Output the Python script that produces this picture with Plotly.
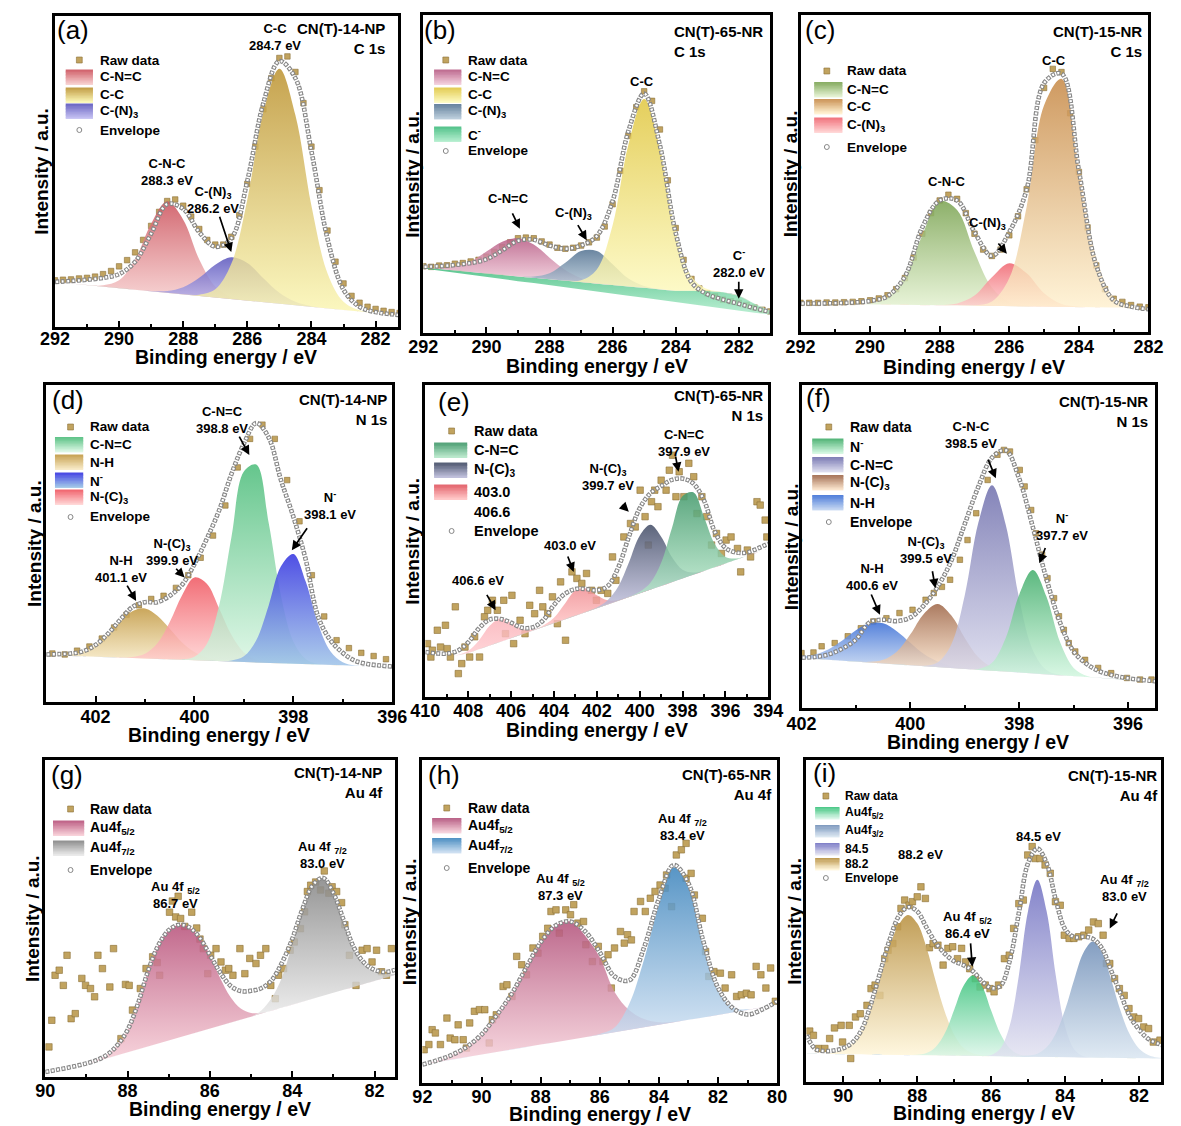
import plotly.graph_objects as go

W, H = 1181, 1126
FONT = "Liberation Sans"
RAW_COLOR = "rgb(193,163,95)"
RAW_EDGE = "rgb(140,112,55)"
ENV_COLOR = "rgb(135,135,135)"

# ---------------- (a) CN(T)-14-NP  C 1s ----------------
A_X = [292.0, 291.5, 291.0, 290.5, 290.0, 289.5, 289.0, 288.5, 288.0, 287.5, 287.0, 286.5,
       286.0, 285.5, 285.0, 284.5, 284.0, 283.5, 283.0, 282.5, 282.0, 281.5, 281.0]
A_BASE = [14.5, 14.0, 13.5, 13.0, 12.5, 12.0, 11.5, 11.0, 10.5, 10.0, 9.5, 9.0,
          8.5, 8.0, 7.5, 7.0, 6.5, 6.0, 5.5, 5.0, 4.5, 4.0, 3.5]
A_CNC = [0, 0, 0, 0.4, 2.5, 9.6, 21.7, 29.4, 24.0, 11.7, 3.5, 0.6,
         0.1, 0, 0, 0, 0, 0, 0, 0, 0, 0, 0]
A_CN3 = [0, 0, 0, 0, 0, 0, 0.1, 0.6, 2.3, 5.8, 10.5, 13.4,
         12.1, 7.7, 3.5, 1.1, 0.2, 0, 0, 0, 0, 0, 0]
A_CC = [0, 0, 0, 0, 0, 0, 0, 0, 0, 0.4, 2.6, 11.3,
        32.5, 61.1, 75.5, 61.1, 32.5, 11.3, 2.6, 0.4, 0, 0, 0]
A_ENV = [14.5, 14.8, 15.2, 15.8, 17.0, 21.0, 30.0, 39.5, 38.0, 30.5, 25.8, 28.5,
         47.0, 72.0, 85.5, 80.0, 56.5, 28.4, 12.0, 6.5, 4.8, 4.1, 3.6]
A_RAW_X = [292.0, 291.75, 291.5, 291.25, 291.0, 290.75, 290.5, 290.25, 290.0, 289.75, 289.5,
           289.25, 289.0, 288.75, 288.5, 288.25, 288.0, 287.75, 287.5, 287.25, 287.0, 286.75,
           286.5, 286.25, 286.0, 285.75, 285.5, 285.25, 285.0, 284.75, 284.5, 284.25, 284.0,
           283.75, 283.5, 283.25, 283.0, 282.75, 282.5, 282.25, 282.0, 281.75, 281.5, 281.25]
A_RAW_Y = [15.0, 15.2, 15.3, 15.6, 15.8, 16.2, 17.0, 18.0, 19.5, 21.5, 24.0,
           28.0, 32.5, 37.0, 40.5, 41.0, 39.0, 35.5, 31.5, 28.0, 26.5, 26.5,
           29.0, 36.0, 46.0, 58.0, 70.0, 80.0, 86.5, 87.0, 82.0, 72.0, 58.0,
           44.0, 31.0, 21.0, 14.0, 10.0, 7.8, 6.5, 5.8, 5.2, 4.8, 4.5]

# ---------------- (b) CN(T)-65-NR  C 1s ----------------
B_X = [292.0, 291.5, 291.0, 290.5, 290.0, 289.5, 289.0, 288.5, 288.0, 287.5, 287.0, 286.5,
       286.0, 285.5, 285.0, 284.5, 284.0, 283.5, 283.0, 282.5, 282.0, 281.5, 281.0]
B_BASE = [20.3, 19.6, 19.0, 18.3, 17.7, 17.0, 16.3, 15.7, 15.0, 14.4, 13.7, 13.0,
          12.4, 11.7, 11.1, 10.4, 9.7, 9.1, 8.4, 7.8, 7.1, 6.4, 5.8]
B_CM = [0.3, 0.5, 0.7, 0.9, 1.1, 1.3, 1.5, 1.7, 1.9, 2.1, 2.3, 2.5,
        2.7, 2.9, 3.1, 3.3, 3.6, 4.2, 4.8, 5.0, 4.6, 2.8, 1.2]
B_CNC = [0.1, 0.3, 1.2, 3.3, 6.8, 10.4, 12.0, 10.4, 6.8, 3.3, 1.2, 0.3,
         0.1, 0, 0, 0, 0, 0, 0, 0, 0, 0, 0]
B_CN3 = [0, 0, 0, 0, 0, 0, 0, 0.4, 1.9, 5.6, 9.8, 10.3,
         6.5, 2.5, 0.6, 0.1, 0, 0, 0, 0, 0, 0, 0]
B_CC = [0, 0, 0, 0, 0, 0, 0, 0, 0, 0, 0.6, 4.5,
        18.8, 44.6, 59.4, 44.6, 18.8, 4.5, 0.6, 0, 0, 0, 0]
B_ENV = [20.8, 21.0, 21.4, 22.0, 23.2, 26.0, 29.0, 29.3, 27.5, 26.5, 27.5, 30.5,
         41.5, 63.5, 75.3, 59.0, 31.5, 16.0, 12.2, 10.5, 9.2, 7.8, 6.6]
B_RAW_X = [292.0, 291.75, 291.5, 291.25, 291.0, 290.75, 290.5, 290.25, 290.0, 289.75, 289.5,
           289.25, 289.0, 288.75, 288.5, 288.25, 288.0, 287.75, 287.5, 287.25, 287.0, 286.75,
           286.5, 286.25, 286.0, 285.75, 285.5, 285.25, 285.0, 284.75, 284.5, 284.25, 284.0,
           283.75, 283.5, 283.25, 283.0, 282.75, 282.5, 282.25, 282.0, 281.75, 281.5, 281.25, 281.0]
B_RAW_Y = [21.0, 20.8, 21.2, 21.3, 21.8, 22.0, 22.5, 23.0, 24.0, 25.5, 27.0,
           28.5, 29.8, 30.0, 29.8, 28.8, 27.8, 26.8, 26.5, 26.8, 27.5, 28.5,
           30.0, 33.5, 40.5, 51.0, 62.0, 71.0, 76.0, 73.0, 64.0, 48.0, 33.0,
           23.0, 17.0, 14.0, 12.5, 11.5, 10.5, 10.0, 9.5, 8.8, 8.0, 7.3, 6.8]

# ---------------- (c) CN(T)-15-NR  C 1s ----------------
C_X = [292.0, 291.5, 291.0, 290.5, 290.0, 289.5, 289.0, 288.5, 288.0, 287.5, 287.0,
       286.5, 286.0, 285.5, 285.0, 284.5, 284.0, 283.5, 283.0, 282.5, 282.0]
C_BASE = [9.0, 8.9, 8.9, 8.8, 8.7, 8.7, 8.6, 8.5, 8.4, 8.4, 8.3,
          8.2, 8.2, 8.1, 8.0, 7.9, 7.9, 7.8, 7.7, 7.7, 7.6]
C_CNC = [0, 0, 0, 0, 0.3, 2.3, 9.0, 22.0, 32.9, 30.1, 16.9,
         5.8, 1.2, 0.2, 0, 0, 0, 0, 0, 0, 0]
C_CN3 = [0, 0, 0, 0, 0, 0, 0, 0, 0.1, 0.6, 3.2,
         9.1, 13.5, 10.4, 4.2, 0.9, 0.1, 0, 0, 0, 0]
C_CC = [0, 0, 0, 0, 0, 0, 0, 0, 0, 0, 0.1,
        1.4, 8.8, 31.5, 63.5, 72.0, 44.5, 15.6, 3.2, 0.4, 0]
C_ENV = [9.0, 9.0, 9.1, 9.3, 9.8, 11.3, 17.5, 33.0, 41.5, 41.5, 31.5,
         24.0, 31.5, 45.0, 78.5, 81.5, 51.0, 21.0, 10.0, 8.0, 7.2]
C_RAW_X = [292.0, 291.75, 291.5, 291.25, 291.0, 290.75, 290.5, 290.25, 290.0, 289.75, 289.5,
           289.25, 289.0, 288.75, 288.5, 288.25, 288.0, 287.75, 287.5, 287.25, 287.0, 286.75,
           286.5, 286.25, 286.0, 285.75, 285.5, 285.25, 285.0, 284.75, 284.5, 284.25, 284.0,
           283.75, 283.5, 283.25, 283.0, 282.75, 282.5, 282.25, 282.0]
C_RAW_Y = [9.2, 9.2, 9.2, 9.3, 9.3, 9.4, 9.5, 9.7, 10.0, 10.6, 11.6,
           13.5, 17.0, 23.5, 31.0, 37.5, 41.5, 43.3, 42.0, 37.5, 31.0, 26.0,
           24.0, 26.0, 30.5, 36.5, 45.0, 60.5, 77.0, 83.0, 82.0, 69.0, 50.5,
           33.0, 21.0, 13.5, 10.5, 9.5, 8.5, 8.0, 7.8]

# ---------------- (d) CN(T)-14-NP  N 1s ----------------
D_X = [403.0, 402.75, 402.5, 402.25, 402.0, 401.75, 401.5, 401.25, 401.0, 400.75, 400.5,
       400.25, 400.0, 399.75, 399.5, 399.25, 399.0, 398.75, 398.5, 398.25, 398.0, 397.75,
       397.5, 397.25, 397.0, 396.75, 396.5, 396.25, 396.0]
D_BASE = [14.8, 14.7, 14.5, 14.4, 14.3, 14.1, 14.0, 13.9, 13.7, 13.6, 13.5,
          13.3, 13.2, 13.0, 12.9, 12.8, 12.6, 12.5, 12.4, 12.2, 12.1, 12.0,
          11.8, 11.7, 11.6, 11.4, 11.3, 11.2, 11.0]
D_NH = [0, 0.1, 0.5, 1.5, 3.6, 7.0, 11.3, 14.8, 15.8, 13.6, 9.6,
        5.5, 2.6, 1.0, 0.3, 0.1, 0, 0, 0, 0, 0, 0,
        0, 0, 0, 0, 0, 0, 0]
D_NC3 = [0, 0, 0, 0, 0, 0, 0, 0.3, 1.5, 4.9, 11.7,
         20.4, 26.1, 24.3, 16.6, 8.3, 3.0, 0.8, 0.2, 0, 0, 0,
         0, 0, 0, 0, 0, 0, 0]
D_CNC = [0, 0, 0, 0, 0, 0, 0, 0, 0, 0, 0,
         0.2, 1.1, 5.3, 17.6, 39.4, 60.1, 62.4, 44.2, 21.3, 7.0, 1.6,
         0.2, 0, 0, 0, 0, 0, 0]
D_NM = [0, 0, 0, 0, 0, 0, 0, 0, 0, 0, 0,
        0, 0, 0, 0, 0.3, 1.8, 7.0, 18.0, 30.6, 34.6, 26.0,
        12.9, 4.3, 0.9, 0.1, 0, 0, 0]
D_ENV = [15.0, 15.1, 15.3, 16.0, 18.0, 21.5, 26.0, 30.0, 31.5, 31.5, 33.5,
         37.0, 43.5, 51.5, 60.5, 72.0, 81.5, 88.0, 83.5, 70.0, 58.5, 45.0,
         27.0, 19.5, 15.5, 13.0, 12.0, 11.5, 11.2]
D_RAW_X = [402.875, 402.625, 402.375, 402.125, 401.875, 401.625, 401.375, 401.125, 400.875,
           400.625, 400.375, 400.125, 399.875, 399.625, 399.375, 399.125, 398.875, 398.625,
           398.375, 398.125, 397.875, 397.625, 397.375, 397.125, 396.875, 396.625, 396.375, 396.125]
D_RAW_Y = [15.3, 15.0, 16.2, 17.5, 20.0, 23.5, 27.5, 30.5, 32.5,
           33.5, 36.0, 40.0, 45.5, 52.5, 62.0, 74.0, 83.0, 87.5,
           83.0, 70.0, 57.0, 40.0, 27.0, 19.5, 17.0, 15.5, 14.5, 13.5]

# ---------------- (e) CN(T)-65-NR  N 1s ----------------
E_X = [410.0, 409.5, 409.0, 408.5, 408.0, 407.5, 407.0, 406.5, 406.0, 405.5, 405.0,
       404.5, 404.0, 403.5, 403.0, 402.5, 402.0, 401.5, 401.0, 400.5, 400.0, 399.5,
       399.0, 398.5, 398.0, 397.5, 397.0, 396.5, 396.0, 395.5, 395.0, 394.5, 394.0]
E_BASE = [13.4, 13.4, 13.4, 13.4, 14.1, 15.3, 16.5, 17.7, 18.9, 20.1, 21.3,
          22.5, 23.7, 24.9, 26.1, 27.3, 28.5, 29.7, 30.9, 32.1, 33.3, 34.5,
          35.6, 36.8, 38.0, 39.2, 40.4, 41.6, 42.8, 44.0, 45.2, 46.4, 47.6]
E_P406 = [0, 0, 0, 0.1, 0.7, 2.8, 6.3, 7.5, 4.9, 1.7, 0.3,
          0, 0, 0, 0, 0, 0, 0, 0, 0, 0, 0,
          0, 0, 0, 0, 0, 0, 0, 0, 0, 0, 0]
E_P403 = [0, 0, 0, 0, 0, 0, 0, 0, 0, 0, 0,
          0.4, 1.7, 4.9, 8.0, 7.5, 4.1, 1.3, 0.2, 0, 0, 0,
          0, 0, 0, 0, 0, 0, 0, 0, 0, 0, 0]
E_NC3 = [0, 0, 0, 0, 0, 0, 0, 0, 0, 0, 0,
         0, 0, 0, 0, 0, 0.2, 1.3, 4.5, 11.1, 18.4, 20.7,
         15.8, 8.1, 2.8, 0.7, 0.1, 0, 0, 0, 0, 0, 0]
E_CNC = [0, 0, 0, 0, 0, 0, 0, 0, 0, 0, 0,
         0, 0, 0, 0, 0, 0, 0, 0, 0, 0.4, 2.1,
         7.4, 17.3, 26.4, 26.4, 17.3, 7.4, 2.1, 0.4, 0, 0, 0]
E_ENV = [14.4, 14.0, 13.9, 14.8, 17.5, 22.0, 24.8, 25.0, 23.8, 22.2, 22.3,
         24.6, 29.5, 33.0, 34.6, 34.6, 34.2, 35.5, 41.5, 51.5, 60.5, 65.3,
         67.6, 69.6, 70.0, 68.4, 63.0, 53.0, 47.8, 46.3, 46.3, 47.6, 49.2]
E_RAW_X = [409.9, 409.74, 409.67, 409.44, 409.29, 409.06, 408.98, 408.83, 408.6, 408.46,
           408.3, 408.15, 407.93, 407.7, 407.47, 407.24, 407.09, 406.87, 406.64, 406.34,
           406.26, 405.96, 405.88, 405.58, 405.35, 405.13, 404.9, 404.67, 404.52, 404.29,
           404.07, 403.84, 403.69, 403.46, 403.16, 402.93, 402.7, 402.48, 402.25, 402.02,
           401.8, 401.49, 401.27, 401.11, 400.74, 400.43, 400.21, 399.98, 399.75, 399.6,
           399.45, 399.3, 399.15, 399.0, 398.77, 398.62, 398.47, 398.31, 398.16, 397.94,
           397.71, 397.48, 397.33, 397.1, 396.88, 396.65, 396.42, 396.19, 395.97, 395.74,
           395.44, 395.29, 394.98, 394.83, 394.53, 394.38, 394.15, 394.07]
E_RAW_Y = [17.1, 12.8, 15.0, 21.4, 16.0, 23.0, 15.5, 12.8, 28.9, 7.5,
           10.7, 16.0, 12.8, 19.3, 12.8, 25.7, 27.8, 31.0, 27.8, 31.0,
           20.3, 32.6, 17.1, 24.6, 20.3, 29.4, 26.7, 34.2, 28.9, 26.7,
           32.1, 23.5, 36.9, 18.2, 40.1, 38.0, 36.4, 39.6, 34.2, 31.0,
           34.2, 33.2, 44.9, 37.4, 51.3, 55.6, 54.5, 66.3, 57.8, 48.7,
           62.6, 66.3, 61.0, 69.5, 66.3, 72.7, 77.5, 64.2, 72.2, 64.2,
           74.9, 70.6, 58.8, 64.2, 57.8, 48.7, 52.4, 46.0, 50.3, 51.3,
           47.6, 40.1, 47.1, 44.9, 62.6, 61.5, 56.7, 51.3]

# ---------------- (f) CN(T)-15-NR  N 1s ----------------
F_X = [402.0, 401.75, 401.5, 401.25, 401.0, 400.75, 400.5, 400.25, 400.0, 399.75, 399.5,
       399.25, 399.0, 398.75, 398.5, 398.25, 398.0, 397.75, 397.5, 397.25, 397.0, 396.75,
       396.5, 396.25, 396.0, 395.75, 395.5]
F_BASE = [15.5, 15.2, 14.9, 14.6, 14.4, 14.1, 13.8, 13.5, 13.2, 12.9, 12.7,
          12.4, 12.1, 11.8, 11.5, 11.3, 11.0, 10.7, 10.4, 10.1, 9.9, 9.6,
          9.3, 9.0, 8.7, 8.5, 8.2]
F_NH = [0.5, 1.4, 3.3, 6.3, 9.7, 12.1, 12.4, 10.3, 7.0, 3.8, 1.7,
        0.6, 0.2, 0, 0, 0, 0, 0, 0, 0, 0, 0,
        0, 0, 0, 0, 0]
F_NC3 = [0, 0, 0, 0, 0, 0.2, 1.1, 3.9, 9.6, 16.3, 19.5,
         16.3, 9.6, 3.9, 1.1, 0.2, 0, 0, 0, 0, 0, 0,
         0, 0, 0, 0, 0]
F_CNC = [0, 0, 0, 0, 0, 0, 0, 0, 0, 0.2, 1.4,
         7.2, 22.8, 45.6, 57.5, 45.6, 22.8, 7.2, 1.4, 0.2, 0, 0,
         0, 0, 0, 0, 0]
F_NM = [0, 0, 0, 0, 0, 0, 0, 0, 0, 0, 0,
        0, 0, 0.3, 2.5, 10.3, 24.1, 32.0, 24.1, 10.3, 2.5, 0.3,
        0, 0, 0, 0, 0]
F_ENV = [15.6, 15.8, 16.6, 18.4, 21.2, 26.5, 27.3, 26.9, 28.0, 31.8, 37.5,
         45.5, 57.0, 68.5, 77.5, 79.8, 71.0, 56.0, 40.0, 26.5, 17.5, 13.5,
         11.2, 10.0, 9.2, 8.7, 8.3]
F_RAW_X = [402.0, 401.78, 401.63, 401.39, 401.15, 400.91, 400.68, 400.44, 400.2, 399.96,
           399.72, 399.57, 399.42, 399.27, 399.09, 398.95, 398.79, 398.58, 398.4, 398.28,
           398.17, 397.99, 397.9, 397.78, 397.69, 397.58, 397.48, 397.36, 397.27, 397.18,
           397.09, 396.97, 396.79, 396.55, 396.31, 396.02, 395.78, 395.57]
F_RAW_Y = [17.0, 17.2, 19.1, 20.1, 22.2, 24.7, 26.8, 27.8, 29.4, 30.4,
           33.5, 35.6, 37.5, 39.7, 45.9, 52.0, 60.3, 70.6, 78.4, 79.9,
           79.4, 73.7, 68.6, 61.3, 54.1, 47.5, 40.2, 34.0, 28.4, 24.2,
           20.1, 17.5, 14.9, 12.4, 10.8, 9.3, 8.8, 8.8]

# ---------------- (g) CN(T)-14-NP  Au 4f ----------------
G_X = [90.0, 89.75, 89.5, 89.25, 89.0, 88.75, 88.5, 88.25, 88.0, 87.75, 87.5, 87.25,
       87.0, 86.75, 86.5, 86.25, 86.0, 85.75, 85.5, 85.25, 85.0, 84.75, 84.5, 84.25,
       84.0, 83.75, 83.5, 83.25, 83.0, 82.75, 82.5, 82.25, 82.0, 81.75, 81.5]
G_BASE = [0.2, 1.2, 2.1, 3.1, 4.0, 5.0, 5.9, 6.8, 7.8, 8.7, 9.6, 10.6,
          11.5, 12.5, 13.4, 14.3, 15.3, 16.2, 17.2, 18.1, 19.0, 20.0, 20.9, 21.9,
          22.8, 23.7, 24.7, 25.6, 26.6, 27.5, 28.4, 29.4, 30.3, 31.3, 32.2]
G_P52 = [0, 0, 0, 0, 0, 0.4, 1.1, 3.2, 7.0, 14.3, 23.9, 31.0,
         34.8, 35.5, 33.8, 29.7, 23.2, 15.0, 8.0, 3.5, 1.2, 0.3, 0, 0,
         0, 0, 0, 0, 0, 0, 0, 0, 0, 0, 0]
G_P72 = [0, 0, 0, 0, 0, 0, 0, 0, 0, 0, 0, 0,
         0, 0, 0, 0, 0, 0, 0, 0, 0, 1.0, 4.0, 9.5,
         19.0, 29.0, 35.8, 37.2, 31.5, 21.5, 12.0, 6.0, 2.8, 1.2, 0.4]
G_ENV = [1.6, 2.2, 2.8, 3.5, 4.3, 5.3, 7.0, 10.0, 14.8, 23.0, 33.5, 41.6,
         46.3, 48.0, 47.2, 44.0, 38.5, 33.0, 28.8, 27.1, 27.2, 28.0, 30.5, 36.0,
         43.5, 53.0, 60.5, 62.8, 58.0, 49.5, 40.8, 36.0, 33.8, 33.1, 33.8]
G_RAW_X = [89.91, 89.84, 89.76, 89.66, 89.56, 89.47, 89.37, 89.27, 89.11, 89.02,
           88.9, 88.8, 88.72, 88.61, 88.43, 88.34, 88.16, 88.05, 87.96, 87.88,
           87.69, 87.55, 87.39, 87.28, 87.22, 86.98, 86.91, 86.83, 86.77, 86.71,
           86.61, 86.44, 86.32, 86.24, 86.16, 86.05, 85.98, 85.85, 85.73, 85.62,
           85.54, 85.44, 85.27, 85.15, 85.03, 84.88, 84.77, 84.64, 84.52, 84.41,
           84.33, 84.21, 84.05, 83.95, 83.8, 83.7, 83.63, 83.55, 83.43, 83.31,
           83.22, 83.11, 83.03, 82.92, 82.8, 82.72, 82.61, 82.45, 82.3, 82.18,
           82.06, 81.95, 81.83, 81.71, 81.59]
G_RAW_Y = [9.5, 17.9, 32.1, 33.7, 28.9, 38.4, 18.4, 20.0, 31.1, 28.9,
           27.9, 25.3, 38.4, 34.2, 28.4, 40.5, 12.1, 29.2, 28.9, 21.1,
           27.9, 34.2, 37.9, 36.1, 32.1, 52.0, 55.5, 50.5, 57.0, 50.0,
           47.5, 52.0, 47.0, 43.5, 40.5, 32.6, 38.4, 40.5, 36.3, 33.7,
           34.2, 32.1, 40.5, 32.6, 37.4, 35.8, 38.4, 40.5, 28.9, 24.7,
           32.1, 34.2, 40.0, 42.6, 46.8, 52.1, 58.5, 60.5, 61.5, 59.0,
           65.0, 58.0, 60.0, 58.5, 55.0, 48.0, 38.4, 28.9, 40.0, 40.5,
           36.3, 40.0, 33.2, 32.1, 40.5]

# ---------------- (h) CN(T)-65-NR  Au 4f ----------------
H_X = [92.0, 91.5, 91.0, 90.5, 90.0, 89.5, 89.0, 88.5, 88.0, 87.5, 87.0, 86.5,
       86.0, 85.5, 85.0, 84.5, 84.0, 83.5, 83.0, 82.5, 82.0, 81.5, 81.0, 80.5, 80.0]
H_BASE = [5.7, 6.5, 7.2, 8.0, 8.8, 9.6, 10.3, 11.1, 11.9, 12.6, 13.4, 14.2,
          14.9, 15.7, 16.5, 17.3, 18.0, 18.8, 19.6, 20.3, 21.1, 21.9, 22.6, 23.4, 24.2]
H_P52 = [0, 0.5, 1.5, 3.2, 6.2, 11.2, 17.0, 24.4, 31.6, 36.1, 36.6, 31.5,
         24.0, 12.5, 6.0, 2.5, 0.8, 0.2, 0, 0, 0, 0, 0, 0, 0]
H_P72 = [0, 0, 0, 0, 0, 0, 0, 0, 0, 0, 0, 0,
         0.3, 1.5, 8.0, 21.0, 37.0, 48.0, 41.0, 22.0, 7.5, 1.5, 0.2, 0, 0]
H_ENV = [5.7, 7.0, 8.7, 11.2, 15.0, 20.8, 27.3, 35.5, 43.5, 48.7, 50.0, 47.0,
         40.5, 33.0, 31.8, 42.0, 57.0, 67.5, 61.8, 44.0, 29.5, 23.2, 21.2, 22.8, 25.3]
H_RAW_X = [91.94, 91.78, 91.67, 91.56, 91.39, 91.17, 91.06, 90.9, 90.79, 90.62,
           90.51, 90.4, 90.24, 90.07, 89.89, 89.74, 89.63, 89.5, 89.27, 89.14,
           88.97, 88.81, 88.64, 88.48, 88.26, 88.09, 87.93, 87.76, 87.65, 87.48,
           87.37, 87.15, 86.99, 86.88, 86.74, 86.55, 86.47, 86.25, 86.05, 85.89,
           85.72, 85.61, 85.5, 85.3, 85.17, 85.06, 84.93, 84.84, 84.62, 84.46,
           84.29, 84.13, 83.96, 83.79, 83.74, 83.57, 83.41, 83.24, 83.08, 83.08,
           82.91, 82.8, 82.53, 82.42, 82.31, 82.14, 81.92, 81.76, 81.54, 81.37,
           81.21, 81.04, 80.88, 80.71, 80.55, 80.38, 80.22, 80.06]
H_RAW_Y = [10.3, 11.9, 16.5, 15.5, 11.9, 20.1, 13.9, 13.4, 18.0, 13.4,
           10.8, 18.6, 22.2, 22.7, 22.7, 12.4, 19.6, 21.1, 29.9, 30.4,
           26.8, 39.2, 36.6, 33.5, 41.8, 40.2, 45.4, 47.9, 53.1, 53.6,
           46.4, 53.6, 52.1, 55.2, 49.5, 50.0, 42.8, 37.6, 42.3, 37.6,
           39.7, 29.4, 41.8, 46.9, 43.3, 45.9, 44.3, 53.1, 56.2, 53.1,
           57.2, 59.3, 61.3, 60.3, 64.4, 54.6, 70.6, 72.2, 74.2, 63.4,
           64.9, 58.2, 51.0, 40.7, 33.0, 34.5, 34.0, 29.4, 33.5, 26.8,
           27.3, 27.8, 27.3, 36.1, 33.5, 29.4, 35.6, 25.3]

# ---------------- (i) CN(T)-15-NR  Au 4f ----------------
I_X = [91.0, 90.75, 90.5, 90.25, 90.0, 89.75, 89.5, 89.25, 89.0, 88.75,
       88.5, 88.25, 88.0, 87.75, 87.5, 87.25, 87.0, 86.75, 86.5, 86.25,
       86.0, 85.75, 85.5, 85.25, 85.0, 84.75, 84.5, 84.25, 84.0, 83.75,
       83.5, 83.25, 83.0, 82.75, 82.5, 82.25, 82.0, 81.75, 81.5, 81.25]
I_BASE = [8.8, 8.8, 8.7, 8.7, 8.7, 8.6, 8.6, 8.5, 8.5, 8.4,
          8.4, 8.4, 8.3, 8.3, 8.3, 8.2, 8.2, 8.1, 8.1, 8.1,
          8.0, 8.0, 7.9, 7.9, 7.9, 7.8, 7.8, 7.8, 7.7, 7.7,
          7.6, 7.6, 7.6, 7.5, 7.5, 7.5, 7.4, 7.4, 7.3, 7.3]
I_P882 = [0, 0, 0, 0.5, 1.5, 3.5, 7.5, 14.5, 24.0, 33.5,
          40.5, 43.5, 41.0, 33.5, 23.0, 13.5, 6.5, 2.5, 0.8, 0.2,
          0, 0, 0, 0, 0, 0, 0, 0, 0, 0,
          0, 0, 0, 0, 0, 0, 0, 0, 0, 0]
I_P52 = [0, 0, 0, 0, 0, 0, 0, 0, 0, 0,
         0, 0, 0.2, 0.7, 2.6, 7.0, 14.2, 21.7, 25.0, 21.7,
         14.2, 7.0, 2.6, 0.7, 0.2, 0, 0, 0, 0, 0,
         0, 0, 0, 0, 0, 0, 0, 0, 0, 0]
I_P845 = [0, 0, 0, 0, 0, 0, 0, 0, 0, 0,
          0, 0, 0, 0, 0, 0, 0, 0, 0, 0,
          0.4, 2.4, 9.5, 25.2, 45.3, 55.0, 45.3, 25.2, 9.5, 2.4,
          0.4, 0, 0, 0, 0, 0, 0, 0, 0, 0]
I_P32 = [0, 0, 0, 0, 0, 0, 0, 0, 0, 0,
         0, 0, 0, 0, 0, 0, 0, 0, 0, 0,
         0, 0, 0, 0, 0.3, 1.0, 3.0, 7.3, 14.7, 24.2,
         32.6, 36.0, 32.6, 24.2, 14.7, 7.3, 3.0, 1.0, 0.3, 0.1]
I_ENV = [14.5, 10.2, 9.6, 9.8, 10.5, 12.3, 16.3, 24.3, 34.2, 44.0,
         51.5, 54.3, 53.0, 48.0, 43.2, 39.8, 37.5, 36.3, 34.5, 31.3,
         29.2, 29.8, 37.5, 52.5, 68.0, 72.5, 68.0, 56.5, 47.5, 45.0,
         45.1, 44.5, 41.5, 34.5, 27.5, 20.5, 16.3, 13.4, 12.0, 11.0]
I_RAW_X = [90.91, 90.81, 90.67, 90.5, 90.37, 90.24, 90.06, 90.02, 89.84, 89.8,
           89.67, 89.54, 89.36, 89.25, 89.14, 89.01, 88.88, 88.79, 88.66, 88.53,
           88.44, 88.34, 88.22, 88.13, 88.0, 87.9, 87.78, 87.67, 87.57, 87.44,
           87.3, 87.17, 87.04, 86.91, 86.8, 86.69, 86.58, 86.43, 86.3, 86.16,
           86.03, 85.92, 85.8, 85.64, 85.51, 85.39, 85.25, 85.13, 85.01, 84.89,
           84.81, 84.68, 84.54, 84.4, 84.26, 84.13, 84.02, 83.89, 83.76, 83.63,
           83.49, 83.36, 83.23, 83.1, 82.97, 82.88, 82.79, 82.66, 82.53, 82.4,
           82.27, 82.14, 82.01, 81.87, 81.74, 81.61, 81.43]
I_RAW_Y = [15.8, 14.5, 10.4, 10.4, 13.5, 16.8, 17.6, 12.4, 17.6, 7.3,
           20.2, 21.2, 23.8, 29.0, 30.1, 26.9, 38.3, 40.9, 43.0, 48.2,
           53.9, 56.5, 54.9, 56.0, 57.5, 60.6, 57.0, 41.7, 43.0, 42.5,
           36.3, 41.5, 42.0, 38.3, 41.5, 37.3, 35.2, 32.1, 29.5, 30.1,
           29.0, 28.0, 30.1, 38.3, 39.4, 47.7, 55.4, 56.5, 70.5, 73.1,
           69.4, 69.4, 67.4, 64.8, 56.0, 54.9, 45.6, 44.6, 44.6, 45.1,
           45.6, 47.2, 49.7, 49.2, 45.6, 36.8, 36.8, 32.1, 29.0, 26.9,
           22.8, 20.2, 19.7, 17.1, 16.6, 12.4, 13.0]

# ---------------- colours (top, bottom) ----------------
COL = {
    "a_cnc": ((205, 85, 95), (245, 200, 200)), "a_cn3": ((95, 90, 190), (190, 185, 240)),
    "a_cc": ((190, 150, 55), (250, 245, 175)),
    "b_cm": ((70, 190, 130), (170, 235, 200)), "b_cnc": ((185, 95, 135), (240, 200, 215)),
    "b_cn3": ((90, 120, 150), (180, 200, 215)), "b_cc": ((225, 200, 70), (252, 248, 185)),
    "c_cnc": ((125, 165, 85), (225, 240, 205)), "c_cn3": ((240, 105, 115), (255, 205, 205)),
    "c_cc": ((200, 140, 75), (255, 240, 205)),
    "d_nh": ((195, 155, 70), (245, 230, 190)), "d_nc3": ((240, 90, 100), (255, 205, 205)),
    "d_cnc": ((80, 190, 125), (215, 245, 225)), "d_nm": ((55, 55, 225), (150, 190, 230)),
    "e_406": ((240, 130, 140), (255, 200, 205)), "e_403": ((225, 90, 100), (255, 195, 195)),
    "e_nc3": ((70, 80, 105), (185, 185, 215)), "e_cnc": ((70, 155, 110), (180, 230, 200)),
    "f_nh": ((65, 115, 215), (190, 210, 240)), "f_nc3": ((160, 105, 75), (250, 225, 200)),
    "f_cnc": ((115, 115, 175), (215, 215, 235)), "f_nm": ((70, 175, 110), (205, 245, 220)),
    "g_52": ((185, 85, 125), (245, 200, 210)), "g_72": ((135, 135, 135), (230, 230, 230)),
    "h_52": ((180, 85, 125), (245, 205, 215)), "h_72": ((65, 135, 190), (200, 220, 240)),
    "i_882": ((185, 145, 65), (255, 245, 215)), "i_52": ((60, 195, 125), (215, 245, 230)),
    "i_845": ((115, 115, 195), (225, 225, 240)), "i_32": ((115, 145, 185), (215, 228, 240)),
}

B_ON = [l + g for l, g in zip(B_BASE, B_CM)]

PANELS = [
    dict(tag="(a)", frame=(41, 393, 16, 327), xr=[292, 281.3], X=A_X, base=A_BASE, env=A_ENV,
         raw=(A_RAW_X, A_RAW_Y), rs=5.5, ts=-6,
         peaks=[(A_CNC, "a_cnc", None), (A_CN3, "a_cn3", None), (A_CC, "a_cc", None)],
         tagpos=(291.45, 95.5), sample=("CN(T)-14-NP<br>C 1s", 281.65, 92.8, "right"),
         labels=[("C-C<br>284.7 eV", 285.13, 93.3), ("C-N-C<br>288.3 eV", 288.52, 49.9),
                 ("C-(N)<sub>3</sub><br>286.2 eV", 287.07, 40.8)],
         arrows=[(286.88, 35.9, 286.5, 24.1)],
         xt=357, yt=27,
         leg=dict(sw=(52, 80), mx=66, tx=85, fs=13.5, sh=15,
                  rows=[(60, "raw", "Raw data", None), (77, "fill", "C-N=C", "a_cnc"),
                        (95, "fill", "C-C", "a_cc"), (111, "fill", "C-(N)<sub>3</sub>", "a_cn3"),
                        (130, "env", "Envelope", None)])),
    dict(tag="(b)", frame=(419, 775, 15, 333), xr=[292, 281], X=B_X, base=B_BASE, env=B_ENV,
         raw=(B_RAW_X, B_RAW_Y), rs=5.5, ts=-4,
         peaks=[(B_CM, "b_cm", None), (B_CNC, "b_cnc", B_ON), (B_CN3, "b_cn3", B_ON), (B_CC, "b_cc", B_ON)],
         tagpos=(291.48, 95.3), sample=("CN(T)-65-NR<br>C 1s", 284.12, 91.6, "left"),
         labels=[("C-C", 285.06, 79.0), ("C-N=C", 289.3, 42.3), ("C-(N)<sub>3</sub>", 287.23, 37.5),
                 ("C<sup>-</sup><br>282.0 eV", 282.0, 21.8)],
         arrows=[(289.2, 38.1, 288.94, 32.8), (287.13, 34.4, 286.82, 29.2), (282.0, 16.6, 282.0, 10.8)],
         xt=366, yt=407,
         leg=dict(sw=(430, 458), mx=442, tx=463, fs=13.5, sh=15,
                  rows=[(60, "raw", "Raw data", None), (77, "fill", "C-N=C", "b_cnc"),
                        (95, "fill", "C-C", "b_cc"), (111.5, "fill", "C-(N)<sub>3</sub>", "b_cn3"),
                        (134, "fill", "C<sup>-</sup>", "b_cm"), (151, "env", "Envelope", None)])),
    dict(tag="(c)", frame=(806, 1163, 15, 332), xr=[292, 282], X=C_X, base=C_BASE, env=C_ENV,
         raw=(C_RAW_X, C_RAW_Y), rs=5.5, ts=-3,
         peaks=[(C_CNC, "c_cnc", None), (C_CN3, "c_cn3", None), (C_CC, "c_cc", None)],
         tagpos=(291.44, 95.3), sample=("CN(T)-15-NR<br>C 1s", 282.14, 91.6, "right"),
         labels=[("C-C", 284.71, 85.8), ("C-N-C", 287.8, 47.4), ("C-(N)<sub>3</sub>", 286.63, 34.2)],
         arrows=[(286.35, 28.4, 286.07, 24.7)],
         xt=367, yt=796,
         leg=dict(sw=(820, 849), mx=833, tx=852, fs=13.5, sh=15,
                  rows=[(71, "raw", "Raw data", None), (89.5, "fill", "C-N=C", "c_cnc"),
                        (106.5, "fill", "C-C", "c_cc"), (125, "fill", "C-(N)<sub>3</sub>", "c_cn3"),
                        (147, "env", "Envelope", None)])),
    dict(tag="(d)", frame=(32, 387, 385, 702), xr=[403, 396], X=D_X, base=D_BASE, env=D_ENV,
         raw=(D_RAW_X, D_RAW_Y), rs=5.5, ts=-3,
         peaks=[(D_NH, "d_nh", None), (D_NC3, "d_nc3", None), (D_CNC, "d_cnc", None), (D_NM, "d_nm", None)],
         tagpos=(402.56, 95.3), sample=("CN(T)-14-NP<br>N 1s", 396.07, 92.2, "right"),
         labels=[("C-N=C<br>398.8 eV", 399.44, 88.9), ("N<sup>-</sup><br>398.1 eV", 397.25, 62.1),
                 ("N-(C)<sub>3</sub><br>399.9 eV", 400.46, 47.4), ("N-H<br>401.1 eV", 401.48, 42.1)],
         arrows=[(399.11, 84.2, 398.89, 77.9), (397.7, 55.3, 398.03, 47.9),
                 (400.4, 42.5, 400.2, 39.3), (401.38, 37.2, 401.18, 31.9)],
         xt=735, yt=20,
         leg=dict(sw=(41, 70), mx=57, tx=75, fs=13.5, sh=15,
                  rows=[(427, "raw", "Raw data", None), (444.5, "fill", "C-N=C", "d_cnc"),
                        (462, "fill", "N-H", "d_nh"), (480, "fill", "N<sup>-</sup>", "d_nm"),
                        (497, "fill", "N-(C)<sub>3</sub>", "d_nc3"), (517, "env", "Envelope", None)])),
    dict(tag="(e)", frame=(421, 773, 385, 697), xr=[410, 394], X=E_X, base=E_BASE, env=E_ENV,
         raw=(E_RAW_X, E_RAW_Y), rs=6.5, ts=-4,
         peaks=[(E_P406, "e_406", None), (E_P403, "e_403", None), (E_NC3, "e_nc3", None), (E_CNC, "e_cnc", None)],
         tagpos=(408.68, 94.7), sample=("CN(T)-65-NR<br>N 1s", 394.15, 93.3, "right"),
         labels=[("C-N=C<br>397.9 eV", 397.94, 81.3), ("N-(C)<sub>3</sub><br>399.7 eV", 401.49, 70.6),
                 ("403.0 eV", 403.23, 48.7), ("406.6 eV", 407.55, 37.4)],
         arrows=[(398.34, 77.5, 398.19, 72.2), (400.89, 62.0, 400.51, 59.4),
                 (403.38, 45.5, 403.08, 40.1), (407.17, 33.2, 406.72, 27.8)],
         xt=730, yt=408,
         leg=dict(sw=(430, 464), mx=448, tx=469, fs=14.5, sh=15,
                  rows=[(431, "raw", "Raw data", None), (450, "fill", "C-N=C", "e_cnc"),
                        (470, "fill", "N-(C)<sub>3</sub>", "e_nc3"), (492, "fill", "403.0", "e_403"),
                        (512, "text", "406.6", None), (531, "env", "Envelope", None)])),
    dict(tag="(f)", frame=(807, 1170, 385, 708), xr=[402, 395.5], X=F_X, base=F_BASE, env=F_ENV,
         raw=(F_RAW_X, F_RAW_Y), rs=5.5, ts=-2,
         peaks=[(F_NH, "f_nh", None), (F_NC3, "f_nc3", None), (F_CNC, "f_cnc", None), (F_NM, "f_nm", None)],
         tagpos=(401.69, 95.9), sample=("CN(T)-15-NR<br>N 1s", 395.6, 91.8, "right"),
         labels=[("C-N-C<br>398.5 eV", 398.88, 84.5), ("N<sup>-</sup><br>397.7 eV", 397.21, 56.2),
                 ("N-(C)<sub>3</sub><br>399.5 eV", 399.72, 49.0), ("N-H<br>400.6 eV", 400.7, 40.7)],
         arrows=[(398.58, 77.3, 398.43, 71.1), (397.51, 50.0, 397.63, 44.8),
                 (399.6, 42.8, 399.54, 37.1), (400.73, 35.6, 400.56, 28.9)],
         xt=742, yt=797,
         leg=dict(sw=(818, 850), mx=835, tx=855, fs=14, sh=15,
                  rows=[(427, "raw", "Raw data", None), (446, "fill", "N<sup>-</sup>", "f_nm"),
                        (464.5, "fill", "C-N=C", "f_cnc"), (482.5, "fill", "N-(C)<sub>3</sub>", "f_nc3"),
                        (502.5, "fill", "N-H", "f_nh"), (522, "env", "Envelope", None)])),
    dict(tag="(g)", frame=(31, 390, 760, 1077), xr=[90, 81.5], X=G_X, base=G_BASE, env=G_ENV,
         raw=(G_RAW_X, G_RAW_Y), rs=6.5, ts=-4,
         peaks=[(G_P52, "g_52", None), (G_P72, "g_72", None)],
         tagpos=(89.48, 95.3), sample=("CN(T)-14-NP<br>Au 4f", 81.75, 93.0, "right"),
         labels=[("Au 4f <sub>7/2</sub><br>83.0 eV", 83.27, 70.0), ("Au 4f <sub>5/2</sub><br>86.7 eV", 86.83, 57.4)],
         arrows=[],
         xt=1109, yt=18,
         leg=dict(sw=(39, 71), mx=57, tx=75, fs=14, sh=15,
                  rows=[(809, "raw", "Raw data", None), (828, "fill", "Au4f<sub>5/2</sub>", "g_52"),
                        (848, "fill", "Au4f<sub>7/2</sub>", "g_72"), (870, "env", "Envelope", None)])),
    dict(tag="(h)", frame=(418, 782, 760, 1083), xr=[92, 80], X=H_X, base=H_BASE, env=H_ENV,
         raw=(H_RAW_X, H_RAW_Y), rs=6.5, ts=-4,
         peaks=[(H_P52, "h_52", None), (H_P72, "h_72", None)],
         tagpos=(91.28, 95.4), sample=("CN(T)-65-NR<br>Au 4f", 80.11, 92.4, "right"),
         labels=[("Au 4f <sub>7/2</sub><br>83.4 eV", 83.19, 79.4), ("Au 4f <sub>5/2</sub><br>87.3 eV", 87.32, 60.8)],
         arrows=[],
         xt=1114, yt=405,
         leg=dict(sw=(428, 458), mx=443, tx=463, fs=14, sh=15,
                  rows=[(808, "raw", "Raw data", None), (825.5, "fill", "Au4f<sub>5/2</sub>", "h_52"),
                        (845.5, "fill", "Au4f<sub>7/2</sub>", "h_72"), (868, "env", "Envelope", None)])),
    dict(tag="(i)", frame=(812, 1176, 760, 1082), xr=[91, 81.4], X=I_X, base=I_BASE, env=I_ENV,
         raw=(I_RAW_X, I_RAW_Y), rs=6.5, ts=-4,
         peaks=[(I_P882, "i_882", None), (I_P52, "i_52", None), (I_P845, "i_845", None), (I_P32, "i_32", None)],
         tagpos=(90.5, 95.9), sample=("CN(T)-15-NR<br>Au 4f", 81.44, 92.2, "right"),
         labels=[("84.5 eV", 84.72, 76.2), ("88.2 eV", 87.92, 70.5),
                 ("Au 4f <sub>5/2</sub><br>86.4 eV", 86.65, 48.7), ("Au 4f <sub>7/2</sub><br>83.0 eV", 82.4, 60.1)],
         arrows=[(86.56, 43.5, 86.51, 35.8), (82.57, 52.8, 82.79, 47.7)],
         xt=1113, yt=799,
         leg=dict(sw=(821, 846), mx=832, tx=850, fs=12, sh=12,
                  rows=[(796, "raw", "Raw data", None), (813, "fill", "Au4f<sub>5/2</sub>", "i_52"),
                        (831, "fill", "Au4f<sub>3/2</sub>", "i_32"), (849, "fill", "84.5", "i_845"),
                        (864, "fill", "88.2", "i_882"), (878, "env", "Envelope", None)])),
]


def rgba(c, a):
    return "rgba(%d,%d,%d,%.2f)" % (c[0], c[1], c[2], a)


def mix(c1, c2, f):
    return tuple(round(c1[i] + (c2[i] - c1[i]) * f) for i in range(3))


def pxx(px):
    return px / W


def pxy(py):
    return 1 - py / H


fig = go.Figure()
shapes, annots, axes = [], [], {}
BOLD = dict(family=FONT, color="black", weight="bold")

for k, P in enumerate(PANELS, start=1):
    sfx = "" if k == 1 else str(k)
    xa, ya = "x" + sfx, "y" + sfx
    L, R, T, B = P["frame"]
    axes["xaxis" + sfx] = dict(
        domain=[L / W, R / W], range=P["xr"], anchor=ya, showline=True, linewidth=2.5,
        linecolor="black", mirror=True, ticks="inside", ticklen=6, tickwidth=2, tickcolor="black",
        dtick=2, tick0=0, tickfont=dict(size=18, **BOLD), ticklabelstandoff=P["ts"],
        minor=dict(ticks="inside", ticklen=3.5, tickwidth=1.5, dtick=1, tick0=0, tickcolor="black"),
        showgrid=False, zeroline=False)
    axes["yaxis" + sfx] = dict(
        domain=[1 - B / H, 1 - T / H], range=[0, 100], anchor=xa, showline=True, linewidth=2.5,
        linecolor="black", mirror=True, ticks="", showticklabels=False, showgrid=False, zeroline=False)
    X = P["X"]

    # raw data (drawn first, the fitted peaks are translucent over it)
    fig.add_trace(go.Scatter(x=P["raw"][0], y=P["raw"][1], mode="markers", xaxis=xa, yaxis=ya,
                             marker=dict(symbol="square", size=P["rs"], color=RAW_COLOR,
                                         line=dict(color=RAW_EDGE, width=0.6)),
                             showlegend=False, hoverinfo="skip"))
    # fitted components
    for vals, ckey, on in P["peaks"]:
        base = on if on is not None else P["base"]
        top_c, bot_c = COL[ckey]
        ytop = [b + v for b, v in zip(base, vals)]
        sup = [b for b, v in zip(base, vals) if v > 0.3]
        fig.add_trace(go.Scatter(x=X, y=base, mode="lines", xaxis=xa, yaxis=ya,
                                 line=dict(width=0, color="rgba(0,0,0,0)"),
                                 showlegend=False, hoverinfo="skip"))
        fig.add_trace(go.Scatter(x=X, y=ytop, mode="lines", xaxis=xa, yaxis=ya,
                                 line=dict(width=0, shape="spline", color="rgba(0,0,0,0)"),
                                 fill="tonexty",
                                 fillgradient=dict(type="vertical",
                                                   colorscale=[[0, rgba(bot_c, 0.8)], [1, rgba(top_c, 0.88)]],
                                                   start=min(sup), stop=max(ytop)),
                                 showlegend=False, hoverinfo="skip"))
    # envelope: chain of small open circles
    fig.add_trace(go.Scatter(x=X, y=P["env"], mode="lines", xaxis=xa, yaxis=ya,
                             line=dict(color=ENV_COLOR, width=4.6, dash="4px,1.5px", shape="spline"),
                             showlegend=False, hoverinfo="skip"))
    fig.add_trace(go.Scatter(x=X, y=P["env"], mode="lines", xaxis=xa, yaxis=ya,
                             line=dict(color="white", width=2.4, dash="0px,1px,2px,2.5px", shape="spline"),
                             showlegend=False, hoverinfo="skip"))

    # panel tag, sample label, peak labels, arrows
    annots.append(dict(x=P["tagpos"][0], y=P["tagpos"][1], xref=xa, yref=ya, text=P["tag"],
                       showarrow=False, font=dict(family=FONT, size=26, color="black"),
                       xanchor="center", yanchor="middle"))
    st, sx, sy, al = P["sample"]
    annots.append(dict(x=sx, y=sy, xref=xa, yref=ya, text=st, showarrow=False, align=al,
                       xanchor=al, yanchor="middle", font=dict(size=15, **BOLD)))
    for txt, lx, ly in P["labels"]:
        annots.append(dict(x=lx, y=ly, xref=xa, yref=ya, text=txt, showarrow=False, align="center",
                           xanchor="center", yanchor="middle", font=dict(size=13, **BOLD)))
    for x0, y0, x1, y1 in P["arrows"]:
        annots.append(dict(x=x1, y=y1, ax=x0, ay=y0, xref=xa, yref=ya, axref=xa, ayref=ya, text="",
                           showarrow=True, arrowhead=2, arrowsize=1.1, arrowwidth=1.7, arrowcolor="black"))
    # axis titles
    annots.append(dict(x=pxx((L + R) / 2), y=pxy(P["xt"]), xref="paper", yref="paper",
                       text="Binding energy / eV", showarrow=False, xanchor="center", yanchor="middle",
                       font=dict(size=19.5, **BOLD)))
    annots.append(dict(x=pxx(P["yt"]), y=pxy((T + B) / 2), xref="paper", yref="paper",
                       text="Intensity / a.u.", showarrow=False, textangle=-90, xanchor="center",
                       yanchor="middle", font=dict(size=19, **BOLD)))

    # legend (drawn by hand to match the original gradient swatches)
    lg = P["leg"]
    s0, s1 = lg["sw"]
    sh = lg["sh"]
    for ry, kind, label, ckey in lg["rows"]:
        if kind == "raw":
            shapes.append(dict(type="rect", xref="paper", yref="paper", layer="above",
                               x0=pxx(lg["mx"] - 3), x1=pxx(lg["mx"] + 3), y0=pxy(ry + 3), y1=pxy(ry - 3),
                               fillcolor=RAW_COLOR, line=dict(color=RAW_EDGE, width=0.6)))
        elif kind == "env":
            shapes.append(dict(type="circle", xref="paper", yref="paper", layer="above",
                               x0=pxx(lg["mx"] - 2.5), x1=pxx(lg["mx"] + 2.5), y0=pxy(ry + 2.5),
                               y1=pxy(ry - 2.5), fillcolor="white", line=dict(color=ENV_COLOR, width=1)))
        elif kind == "fill":
            top_c, bot_c = COL[ckey]
            nb = 10
            for i in range(nb):
                c = mix(top_c, bot_c, i / (nb - 1))
                ya0 = ry - sh / 2 + i * sh / nb
                shapes.append(dict(type="rect", xref="paper", yref="paper", layer="above",
                                   x0=pxx(s0), x1=pxx(s1), y0=pxy(ya0 + sh / nb + 0.4), y1=pxy(ya0),
                                   fillcolor=rgba(c, 0.9), line=dict(width=0)))
        annots.append(dict(x=pxx(lg["tx"]), y=pxy(ry), xref="paper", yref="paper", text=label,
                           showarrow=False, xanchor="left", yanchor="middle",
                           font=dict(size=lg["fs"], **BOLD)))

fig.update_layout(width=W, height=H, margin=dict(l=0, r=0, t=0, b=0), paper_bgcolor="white",
                  plot_bgcolor="white", showlegend=False, shapes=shapes, annotations=annots,
                  font=dict(family=FONT), **axes)
fig.write_html("out.html")
